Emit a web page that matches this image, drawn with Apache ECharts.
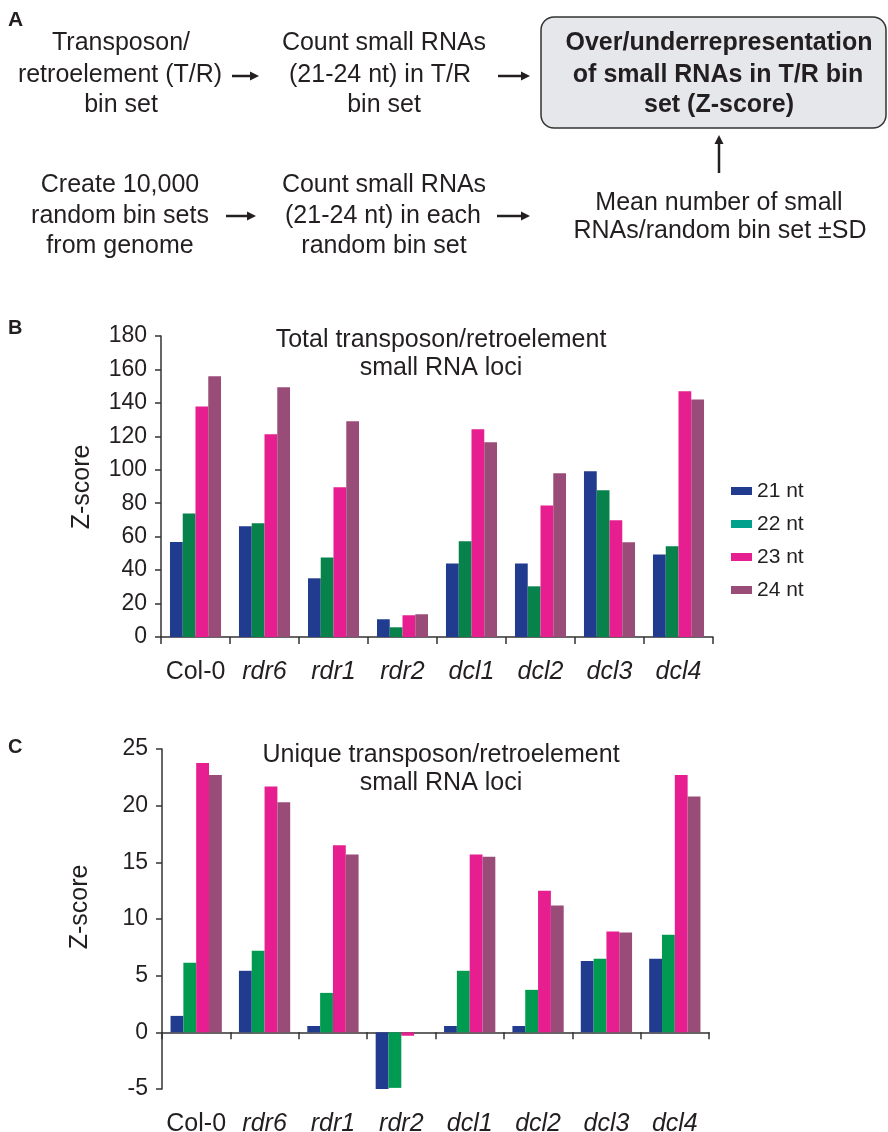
<!DOCTYPE html>
<html>
<head>
<meta charset="utf-8">
<script src="https://cdn.jsdelivr.net/npm/echarts@6/dist/echarts.min.js"></script>
<style>
    html, body { margin: 0; padding: 0; background: #fff; }
    #main { width: 888px; height: 1132px; }
</style>
</head>
<body>
<div id="main"></div>
<script>
// 品种 / 突变体
var categories = ['Col-0', 'rdr6', 'rdr1', 'rdr2', 'dcl1', 'dcl2', 'dcl3', 'dcl4'];
var seriesNames = ['21 nt', '22 nt', '23 nt', '24 nt'];

// B: Total transposon/retroelement small RNA loci
var total21 = [56.8, 66.2, 35.1, 10.6, 44.0, 44.0, 99.1, 49.4];
var total22 = [73.9, 68.0, 47.6, 5.8, 57.2, 30.3, 87.7, 54.2];
var total23 = [137.9, 121.2, 89.5, 13.0, 124.2, 78.7, 69.8, 146.9];
var total24 = [155.9, 149.3, 129.0, 13.6, 116.4, 97.9, 56.6, 142.1];
var totalTicks = [0, 20, 40, 60, 80, 100, 120, 140, 160, 180];

// C: Unique transposon/retroelement small RNA loci
var unique21 = [1.45, 5.43, 0.56, -5.17, 0.56, 0.56, 6.3, 6.5];
var unique22 = [6.14, 7.2, 3.48, -4.9, 5.43, 3.75, 6.5, 8.6];
var unique23 = [23.76, 21.7, 16.5, -0.3, 15.7, 12.5, 8.9, 22.7];
var unique24 = [22.7, 20.3, 15.7, 0, 15.5, 11.2, 8.8, 20.8];
var uniqueTicks = [-5, 0, 5, 10, 15, 20, 25];

var FONT = '"Liberation Sans", Arial, sans-serif';
var INK = '#231f20';
var colorsB = ['#213b8f', '#07824a', '#e61e8f', '#9a4c78'];
var colorsC = ['#213b8f', '#009b50', '#e61e8f', '#9a4c78'];

var myChart = echarts.init(document.getElementById('main'));

/**
 * 流程图文字
 */
function txt(s, x, y, opt) {
    opt = opt || {};
    return {
        type: 'text',
        silent: true,
        rotation: opt.rotation || 0,
        x: x, y: y,
        style: {
            text: s, x: 0, y: 0,
            font: (opt.weight || 'normal') + ' ' + (opt.size || 25) + 'px ' + FONT,
            fill: INK,
            textAlign: opt.align || 'center',
            textVerticalAlign: 'middle'
        }
    };
}

// 横向箭头
function arrowH(x1, x2, y) {
    return [
        { type: 'line', silent: true, shape: { x1: x1, y1: y, x2: x2 - 6, y2: y }, style: { stroke: INK, lineWidth: 2.5 } },
        { type: 'polygon', silent: true, shape: { points: [[x2 - 9, y - 4.5], [x2, y], [x2 - 9, y + 4.5]] }, style: { fill: INK } }
    ];
}

// 纵向箭头 (向上)
function arrowUp(x, y1, y2) {
    return [
        { type: 'line', silent: true, shape: { x1: x, y1: y1, x2: x, y2: y2 + 6 }, style: { stroke: INK, lineWidth: 2.5 } },
        { type: 'polygon', silent: true, shape: { points: [[x - 4.5, y2 + 9], [x, y2], [x + 4.5, y2 + 9]] }, style: { fill: INK } }
    ];
}

var graphics = [
    txt('A', 8, 20, { weight: 'bold', size: 21, align: 'left' }),
    txt('B', 8, 328, { weight: 'bold', size: 20, align: 'left' }),
    txt('C', 8, 747, { weight: 'bold', size: 20, align: 'left' }),
    {
        type: 'rect', silent: true,
        shape: { x: 541, y: 17, width: 345, height: 111, r: 13 },
        style: { fill: '#e6e7eb', stroke: '#333', lineWidth: 1.5 }
    },
    txt('Transposon/', 121, 43),
    txt('retroelement (T/R)', 120, 75),
    txt('bin set', 121, 105),
    txt('Count small RNAs', 384, 43),
    txt('(21-24 nt) in T/R', 380, 75),
    txt('bin set', 384, 105),
    txt('Over/underrepresentation', 719, 43, { weight: 'bold' }),
    txt('of small RNAs in T/R bin', 718, 75, { weight: 'bold' }),
    txt('set (Z-score)', 719, 105, { weight: 'bold' }),
    txt('Create 10,000', 120, 185),
    txt('random bin sets', 120, 216),
    txt('from genome', 120, 246),
    txt('Count small RNAs', 384, 185),
    txt('(21-24 nt) in each', 383, 216),
    txt('random bin set', 384, 246),
    txt('Mean number of small', 719, 203),
    txt('RNAs/random bin set ±SD', 720, 231),
    txt('Z-score', 82, 487, { rotation: Math.PI / 2 }),
    txt('Z-score', 80, 907, { rotation: Math.PI / 2 }),
    txt('Total transposon/retroelement', 441, 340),
    txt('small RNA loci', 441, 368),
    txt('Unique transposon/retroelement', 441, 755),
    txt('small RNA loci', 441, 783)
];
graphics = graphics
    .concat(arrowH(232, 259, 76))
    .concat(arrowH(498, 530, 76))
    .concat(arrowH(226, 256, 216))
    .concat(arrowH(497, 530, 216))
    .concat(arrowUp(719, 173, 135));

function catLabel(margin) {
    return {
        fontSize: 25,
        fontFamily: FONT,
        color: INK,
        margin: margin,
        interval: 0,
        formatter: function (v) {
            return v === 'Col-0' ? '{n|' + v + '}' : '{i|' + v + '}';
        },
        rich: {
            n: { fontSize: 25, fontFamily: FONT, color: INK },
            i: { fontSize: 25, fontFamily: FONT, color: INK, fontStyle: 'italic' }
        }
    };
}
var axisLine = { show: true, onZero: true, lineStyle: { color: '#333', width: 1.5 } };
var xTick = { show: true, length: 7, lineStyle: { color: '#333', width: 1.5 } };

function yAxisOf(ticks, gridIndex) {
    return {
        type: 'value', gridIndex: gridIndex,
        min: ticks[0], max: ticks[ticks.length - 1], interval: ticks[1] - ticks[0],
        splitLine: { show: false },
        axisLine: { show: true, lineStyle: { color: '#333', width: 1.5 } },
        axisTick: { show: true, length: 6, lineStyle: { color: '#333', width: 1.5 } },
        axisLabel: { fontSize: 23, fontFamily: FONT, color: INK, margin: 14 }
    };
}

function barsOf(lists, colors, idx, gap, suffix) {
    return lists.map(function (d, i) {
        return {
            name: seriesNames[i] + suffix, type: 'bar', data: d,
            xAxisIndex: idx, yAxisIndex: idx,
            barGap: '0%', barCategoryGap: gap,
            itemStyle: { color: colors[i] },
            silent: true
        };
    });
}

var option = {
    animation: false,
    textStyle: { fontFamily: FONT },
    graphic: graphics,
    grid: [
        { left: 161, right: 175, top: 336, bottom: 495, outerBoundsMode: 'none', containLabel: false },
        { left: 162, right: 179, top: 749, bottom: 43, outerBoundsMode: 'none', containLabel: false }
    ],
    legend: {
        orient: 'vertical',
        left: 726, top: 475,
        itemWidth: 21, itemHeight: 8, itemGap: 11,
        icon: 'rect',
        textStyle: { fontSize: 21, fontFamily: FONT, color: INK, lineHeight: 22 },
        data: [
            { name: '21 nt' },
            { name: '22 nt', itemStyle: { color: '#00a08c' } },
            { name: '23 nt' },
            { name: '24 nt' }
        ]
    },
    xAxis: [
        {
            type: 'category', gridIndex: 0, data: categories,
            axisLine: axisLine, axisTick: xTick,
            axisLabel: catLabel(23)
        },
        {
            // 轴线在 0 处, 标签留在底部
            type: 'category', gridIndex: 1, data: categories,
            axisLine: axisLine, axisTick: xTick,
            axisLabel: catLabel(23)
        }
    ],
    yAxis: [yAxisOf(totalTicks, 0), yAxisOf(uniqueTicks, 1)],
    series: barsOf([total21, total22, total23, total24], colorsB, 0, '26%', '')
        .concat(barsOf([unique21, unique22, unique23, unique24], colorsC, 1, '25%', ' '))
};

myChart.setOption(option);
</script>
</body>
</html>
